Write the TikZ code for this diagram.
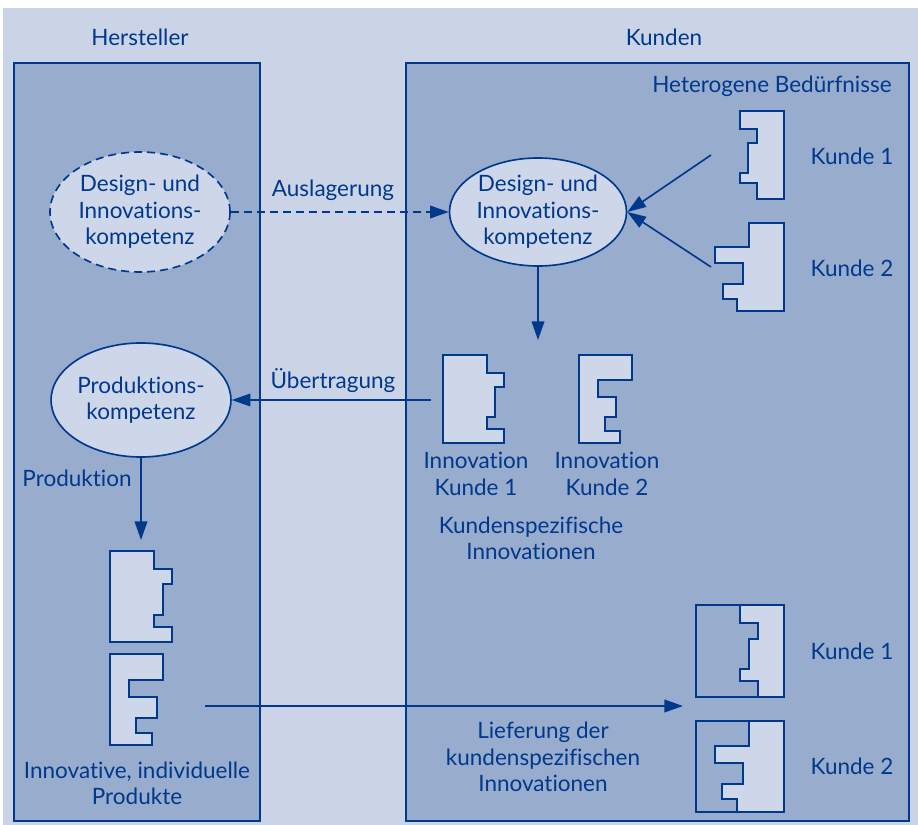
\documentclass[tikz,border=0pt]{standalone}
\usepackage{fontspec}
\setmainfont{Lato}[Ligatures={NoCommon,NoRare,NoDiscretionary}]
\usetikzlibrary{arrows.meta,shapes.geometric}

\definecolor{bgblue}{HTML}{CBD4E6}
\definecolor{panelblue}{HTML}{98ACCE}
\definecolor{darkblue}{HTML}{00388C}
\definecolor{lightfill}{HTML}{CED7EA}

\begin{document}
\begin{tikzpicture}[x=0.03cm,y=-0.03cm,
	txt/.style = {text=darkblue, align=center, inner sep=0pt,
		font=\fontsize{19.2}{22.5}\selectfont},
	panel/.style = {draw=darkblue, fill=panelblue, line width=1.6pt},
	komp/.style = {ellipse, draw=darkblue, fill=lightfill, line width=1.4pt,
		inner sep=0pt, text=darkblue, align=center,
		font=\fontsize{19.2}{22.5}\selectfont},
	piece/.style = {draw=darkblue, fill=lightfill, line width=1.4pt},
	arr/.style = {draw=darkblue, line width=1.4pt,
		-{Triangle[length=0.56cm,width=0.38cm]}},
	dasharr/.style = {arr, dash pattern=on 0.24cm off 0.15cm}
]
\useasboundingbox (0,0) rectangle (918,825);
\fill[white] (0,0) rectangle (918,825);
\fill[bgblue] (3,8) rectangle (918,825);

% Hersteller / Kunden
\draw[panel] (14,63) rectangle (260,821);
\draw[panel] (406,63) rectangle (909,821);
\node[txt] (hersteller) at (140,37) {Hersteller};
\node[txt] (kunden) at (664,37) {Kunden};
\node[txt] (hetero) at (772,86) {Heterogene Bedürfnisse};

\node[komp, dash pattern=on 0.24cm off 0.15cm, minimum width=5.4cm, minimum height=3.6cm]
	(dikh) at (140,212) {Design- und\\Innovations-\\kompetenz};
\node[komp, minimum width=5.31cm, minimum height=3.24cm]
	(dikk) at (538,212) {Design- und\\Innovations-\\kompetenz};
\node[komp, minimum width=5.31cm, minimum height=3.42cm]
	(prod) at (141,400) {Produktions-\\kompetenz};

% Beduerfnisse
\draw[piece] (740,111) -- (784,111) -- (784,199) -- (757,199) -- (757,183) -- (740,183)
	-- (740,173) -- (748,173) -- (748,143) -- (757,143) -- (757,129) -- (740,129) -- cycle;
\draw[piece] (749,223) -- (784,223) -- (784,311) -- (737,311) -- (737,299) -- (723,299)
	-- (723,284) -- (743,284) -- (743,263) -- (715,263) -- (715,247) -- (749,247) -- cycle;
\node[txt] (kb1) at (852,156) {Kunde 1};
\node[txt] (kb2) at (852,268) {Kunde 2};
\coordinate (b1) at (711,155);
\coordinate (b2) at (711,267);

% Innovationen
\draw[piece] (443,355) -- (487,355) -- (487,373) -- (504,373) -- (504,387) -- (495,387)
	-- (495,417) -- (487,417) -- (487,429) -- (504,429) -- (504,443) -- (443,443) -- cycle;
\draw[piece] (579,355) -- (632,355) -- (632,380) -- (598,380) -- (598,397) -- (616,397)
	-- (616,417) -- (605,417) -- (605,431) -- (620,431) -- (620,443) -- (579,443) -- cycle;
\node[txt] (inn1) at (476,474) {Innovation\\Kunde 1};
\node[txt] (inn2) at (607,474) {Innovation\\Kunde 2};
\node[txt] (kspez) at (531,538) {Kundenspezifische\\Innovationen};
\coordinate (innov) at (538,340);
\coordinate (ueb) at (431,400);

% Produkte
\draw[piece] (110,551) -- (154,551) -- (154,569) -- (172,569) -- (172,584) -- (163,584)
	-- (163,615) -- (154,615) -- (154,627) -- (172,627) -- (172,642) -- (110,642) -- cycle;
\draw[piece] (110,654) -- (163,654) -- (163,680) -- (129,680) -- (129,697) -- (157,697)
	-- (157,718) -- (136,718) -- (136,733) -- (152,733) -- (152,745) -- (110,745) -- cycle;
\node[txt] (produkte) at (137,783) {Innovative, individuelle\\Produkte};
\coordinate (prodout) at (141,540);
\coordinate (lief0) at (205,706);
\coordinate (lief1) at (683,706);

% Kunden mit Innovation
\draw[piece] (740,605) -- (784,605) -- (784,697) -- (758,697) -- (758,681) -- (740,681)
	-- (740,669) -- (749,669) -- (749,639) -- (758,639) -- (758,623) -- (740,623) -- cycle;
\draw[darkblue, line width=1.4pt] (696,605) rectangle (784,697);
\draw[piece] (749,721) -- (784,721) -- (784,812) -- (737,812) -- (737,799) -- (722,799)
	-- (722,784) -- (743,784) -- (743,763) -- (715,763) -- (715,746) -- (749,746) -- cycle;
\draw[darkblue, line width=1.4pt] (696,721) rectangle (784,812);
\node[txt] (kl1) at (852,651) {Kunde 1};
\node[txt] (kl2) at (852,766) {Kunde 2};

% Pfeile
\draw[dasharr] (dikh) -- (dikk);
\node[txt] (ausl) at (333,190) {Auslagerung};
\draw[arr] (b1) -- (dikk.east);
\draw[arr] (b2) -- (dikk.east);
\draw[arr] (dikk.south) -- (innov);
\draw[arr] (ueb) -- (prod.east);
\node[txt] (uebl) at (333,381) {Übertragung};
\draw[arr] (prod.south) -- (prodout);
\node[txt] (prodl) at (77,478) {Produktion};
\draw[arr] (lief0) -- (lief1);
\node[txt] (liefl) at (543,757) {Lieferung der\\kundenspezifischen\\Innovationen};
\end{tikzpicture}
\end{document}
